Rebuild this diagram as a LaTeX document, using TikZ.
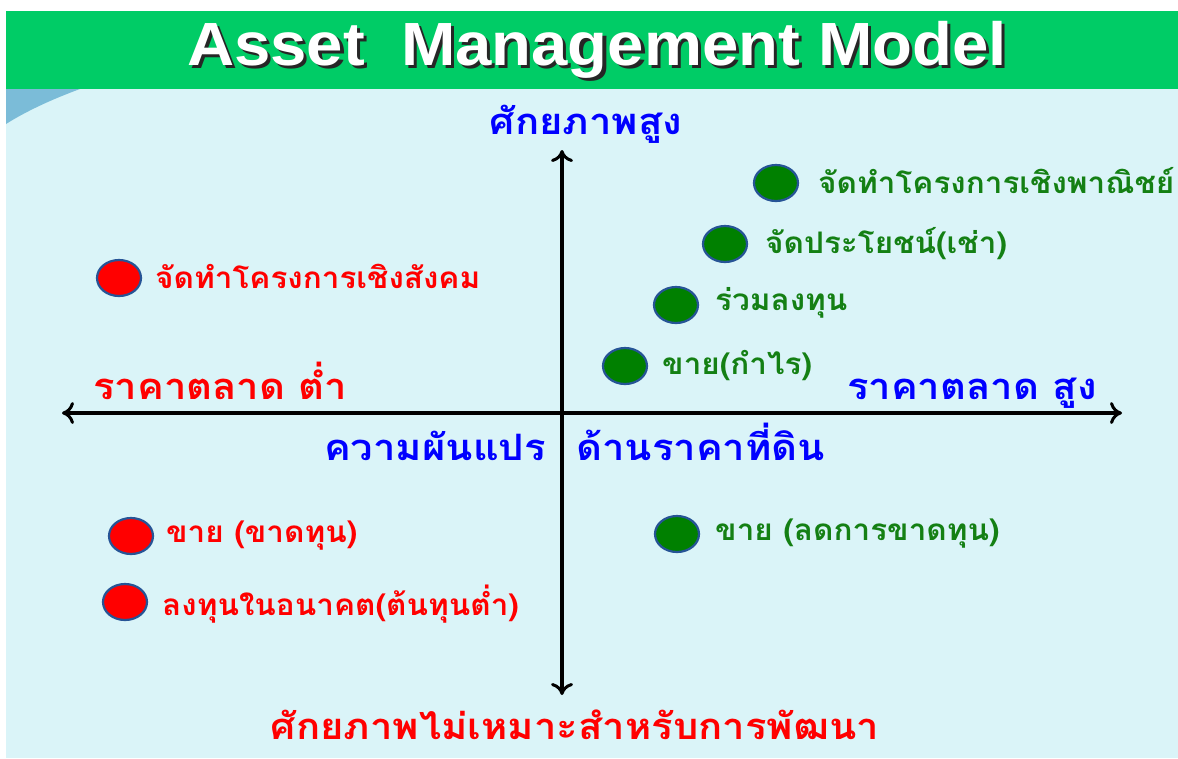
\documentclass[tikz,border=0pt]{standalone}
\usepackage{fontspec}
\setmainfont{Liberation Sans}
\newfontfamily\thaifont[Script=Thai]{Loma}
\usetikzlibrary{arrows.meta,shapes.geometric}
\definecolor{bandgreen}{RGB}{0,204,102}
\definecolor{panel}{RGB}{218,244,248}
\definecolor{corner}{RGB}{123,188,216}
\definecolor{dotgreen}{RGB}{0,128,0}
\definecolor{dotred}{RGB}{255,0,0}
\definecolor{dotrim}{RGB}{38,84,150}
\definecolor{txtgreen}{RGB}{20,128,20}
\newcommand{\shadowed}[1]{\makebox[0pt][l]{\hspace{3pt}\raisebox{-3pt}{\color{black!85}#1}}#1}
\tikzset{
  dot/.style={ellipse,draw=dotrim,line width=2.2pt,minimum width=44pt,minimum height=36pt,inner sep=0pt},
  gooddot/.style={dot,fill=dotgreen},
  baddot/.style={dot,fill=dotred},
  item/.style={anchor=west,inner sep=0pt,xscale=1.06,transform shape,font=\thaifont\bfseries\fontsize{29.7}{34}\selectfont},
  axislabel/.style={inner sep=0pt,xscale=1.1,transform shape,font=\thaifont\bfseries\fontsize{36.4}{42}\selectfont},
  axisline/.style={line width=3.5pt,-{To[length=12pt,width=22pt,line width=3pt]}}
}
\begin{document}
\begin{tikzpicture}[x=1pt,y=-1pt]
  \useasboundingbox (0,0) rectangle (1178,758);
  % background panel, title band and corner wedge
  \fill[white] (0,0) rectangle (1178,758);
  \fill[panel] (6,89) rectangle (1178,758);
  \fill[bandgreen] (6,11) rectangle (1178,89);
  \fill[corner] (6,89) -- (80,89) .. controls (50,100) and (25,112) .. (6,124) -- cycle;
  % title with drop shadow
  \node[text=white,font=\bfseries\fontsize{61}{66}\selectfont,xscale=1.07,transform shape] (title) at (597,51) {\shadowed{Asset\ \ Management Model}};
  % axes
  \coordinate (top) at (562,150);
  \coordinate (bottom) at (562,695);
  \coordinate (left) at (62,413);
  \coordinate (right) at (1122,413);
  \coordinate (mid) at (562,413);
  \draw[axisline] (mid) -- (top);
  \draw[axisline] (mid) -- (bottom);
  \draw[axisline] (mid) -- (left);
  \draw[axisline] (mid) -- (right);
  % axis labels
  \node[axislabel,text=blue] (hi) at (586,124) {ศักยภาพสูง};
  \node[axislabel,text=red] (lo) at (575,725) {ศักยภาพไม่เหมาะสำหรับการพัฒนา};
  \node[axislabel,text=red,anchor=base west] (cheap) at (93,399) {ราคาตลาด ต่ำ};
  \node[axislabel,text=blue,anchor=base east] (dear) at (1097,399) {ราคาตลาด สูง};
  \node[axislabel,text=blue,anchor=base east] (var1) at (546,460) {ความผันแปร};
  \node[axislabel,text=blue,anchor=base west] (var2) at (576,460) {ด้านราคาที่ดิน};
  % favourable options
  \node[gooddot] (g1) at (776,183) {};
  \node[item,text=txtgreen] (t1) at (818,181) {จัดทำโครงการเชิงพาณิชย์};
  \node[gooddot] (g2) at (725,244) {};
  \node[item,text=txtgreen] (t2) at (765,244) {จัดประโยชน์(เช่า)};
  \node[gooddot] (g3) at (676,305) {};
  \node[item,text=txtgreen] (t3) at (715,303) {ร่วมลงทุน};
  \node[gooddot] (g4) at (625,366) {};
  \node[item,text=txtgreen] (t4) at (662,366) {ขาย(กำไร)};
  \node[gooddot] (g5) at (677,534) {};
  \node[item,text=txtgreen] (t5) at (715,534) {ขาย (ลดการขาดทุน)};
  % unfavourable options
  \node[baddot] (r1) at (119,278) {};
  \node[item,text=red] (u1) at (155,276) {จัดทำโครงการเชิงสังคม};
  \node[baddot] (r2) at (131,536) {};
  \node[item,text=red] (u2) at (166,536) {ขาย (ขาดทุน)};
  \node[baddot] (r3) at (125,602) {};
  \node[item,text=red] (u3) at (162,604) {ลงทุนในอนาคต(ต้นทุนต่ำ)};
\end{tikzpicture}
\end{document}
